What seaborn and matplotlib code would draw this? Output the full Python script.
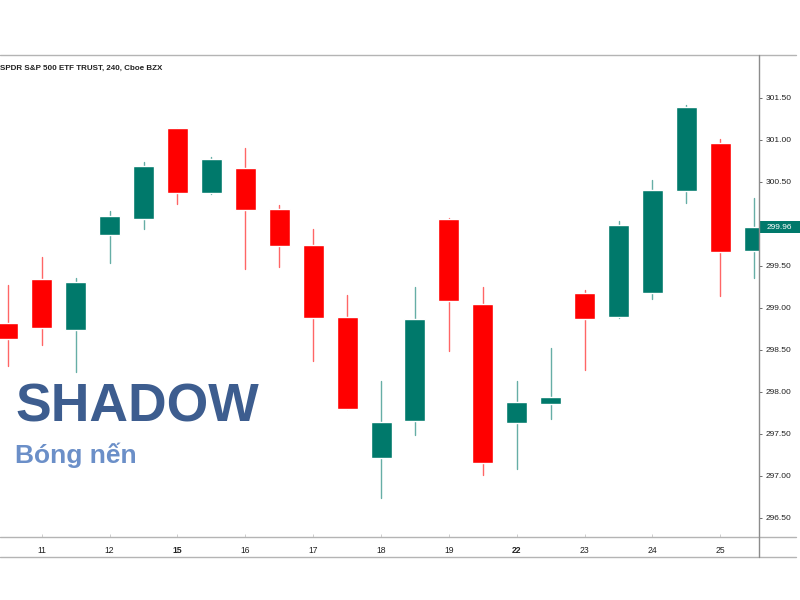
import numpy as np
import pandas as pd
import matplotlib
matplotlib.use('Agg')
import matplotlib.pyplot as plt
import matplotlib.transforms as mtransforms
from matplotlib.patches import Rectangle
from matplotlib.lines import Line2D
import seaborn as sns


# =============================================================================
# Data (4h candles, SPY)
# =============================================================================

opens = [298.82, 299.34, 298.73, 299.87, 300.06, 301.14, 300.37, 300.66, 300.18,
         299.75, 298.89, 297.21, 297.65, 300.06, 299.05, 297.63, 297.85, 299.17,
         298.89, 299.17, 300.39, 300.96, 299.68]
highs = [299.27, 299.60, 299.35, 300.15, 300.74, 301.14, 300.80, 300.90, 300.22,
         299.94, 299.15, 298.13, 299.25, 300.07, 299.25, 298.13, 298.52, 299.21,
         300.03, 300.52, 301.42, 301.01, 300.31]
lows = [298.31, 298.56, 298.24, 299.53, 299.94, 300.23, 300.35, 299.46, 299.48,
        298.36, 297.79, 296.74, 297.48, 298.48, 297.01, 297.08, 297.68, 298.26,
        298.88, 299.11, 300.25, 299.14, 299.36]
closes = [298.63, 298.76, 299.31, 300.09, 300.69, 300.37, 300.77, 300.17, 299.73,
          298.88, 297.79, 297.64, 298.87, 299.08, 297.15, 297.88, 297.94, 298.87,
          299.98, 300.40, 301.39, 299.66, 299.96]

day_labels = ['11', '12', '15', '16', '17', '18', '19', '22', '23', '24', '25']
day_candle = [1, 3, 5, 7, 9, 11, 13, 15, 17, 19, 21]
bold_days = ['15', '22']

price_ticks = [296.5, 297.0, 297.5, 298.0, 298.5, 299.0, 299.5, 300.5, 301.0, 301.5]

title = 'SPDR S&P 500 ETF TRUST, 240, Cboe BZX'
up_color = '#00796b'
down_color = '#ff0000'

df = pd.DataFrame({'open': opens, 'high': highs, 'low': lows, 'close': closes})
df['idx'] = np.arange(len(df))
df['dir'] = np.where(df['close'] >= df['open'], 'up', 'down')

# long form for the wicks
wicks = pd.concat([
    df[['idx', 'dir']].assign(price=df['low']),
    df[['idx', 'dir']].assign(price=df['high']),
])

# =============================================================================
# Plot
# =============================================================================

sns.set_theme(style='white')
plt.rcParams['font.family'] = ['Liberation Sans', 'DejaVu Sans']

fig = plt.figure(figsize=(8, 6), dpi=100)
ax = fig.add_axes([0, 1 - 537 / 600, 759 / 800, (537 - 55) / 600])

palette = {'up': up_color, 'down': down_color}

sns.lineplot(data=wicks, x='idx', y='price', units='idx', estimator=None,
             hue='dir', palette=palette, lw=1, alpha=0.6, legend=False, ax=ax)

ax.bar(df['idx'], (df['close'] - df['open']).abs(),
       bottom=df[['open', 'close']].min(axis=1), width=0.62,
       color=df['dir'].map(palette), zorder=3)

ax.set_xlim(-0.23, 22.14)
ax.set_ylim(296.27, 302.01)
ax.set_xlabel('')
ax.set_ylabel('')

for s in ax.spines.values():
    s.set_visible(False)

# price axis on the right
ax.yaxis.tick_right()
ax.set_yticks(price_ticks)
ax.set_yticklabels([f'{p:.2f}' for p in price_ticks])
ax.tick_params(axis='y', right=True, length=2.5, width=0.6, color='#555555',
               labelsize=6, labelcolor='#222222', pad=2)

# time axis
ax.set_xticks(day_candle)
ax.set_xticklabels(day_labels)
ax.tick_params(axis='x', bottom=True, direction='in', length=2, width=0.5,
               color='#bbbbbb', labelsize=6.2, labelcolor='#222222', pad=6.5)
for lab in ax.get_xticklabels():
    if lab.get_text() in bold_days:
        lab.set_fontweight('bold')

# frame lines of the chart window
line_kw = dict(transform=fig.transFigure, lw=1, color='#b4b4b4')
fig.add_artist(Line2D([0, 796 / 800], [1 - 55 / 600] * 2, **line_kw))
fig.add_artist(Line2D([0, 796 / 800], [1 - 537 / 600] * 2, **line_kw))
fig.add_artist(Line2D([0, 796 / 800], [1 - 557 / 600] * 2, **line_kw))
fig.add_artist(Line2D([759 / 800] * 2, [1 - 557 / 600, 1 - 55 / 600],
                      transform=fig.transFigure, lw=1, color='#8c8c8c'))

# last price label
last = closes[-1]
trans = mtransforms.blended_transform_factory(fig.transFigure, ax.transData)
ax.add_patch(Rectangle((759.5 / 800, last - 0.075), 40.5 / 800, 0.15,
                       transform=trans, facecolor=up_color, edgecolor='none',
                       clip_on=False, zorder=5))
ax.text(779 / 800, last, f'{last:.2f}', transform=trans, color='white',
        fontsize=6, ha='center', va='center', zorder=6)

# header and captions
fig.text(0.0, 1 - 68 / 600, title, fontsize=5.8, fontweight='bold',
         color='#222222', ha='left', va='center')
fig.text(15 / 800, 1 - 408 / 600, 'SHADOW', fontsize=38.5, fontweight='bold',
         color='#3d5d8f', ha='left', va='center')
fig.text(15 / 800, 1 - 455 / 600, 'Bóng nến', fontsize=19, fontweight='bold',
         color='#6b8fc8', ha='left', va='center')

fig.savefig('out.png', dpi=100)
